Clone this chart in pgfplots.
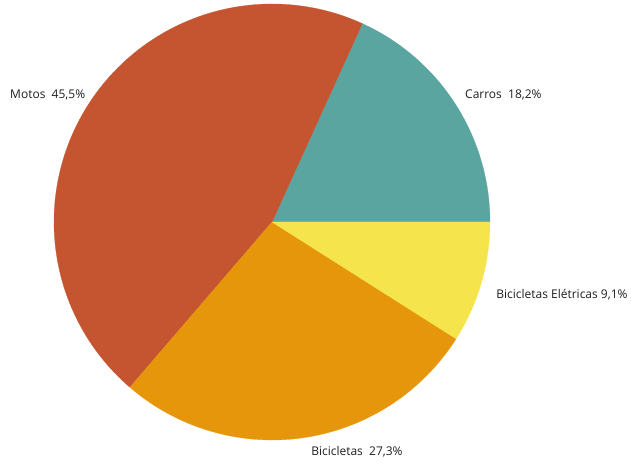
\documentclass[border=0pt]{standalone}
\usepackage{pgfplots}
\pgfplotsset{compat=1.18}
\usepackage{fontspec}
\setmainfont{Open Sans}
\definecolor{carros}{RGB}{91,165,160}
\definecolor{motos}{RGB}{197,85,48}
\definecolor{bic}{RGB}{230,150,10}
\definecolor{ele}{RGB}{245,228,75}
\definecolor{lab}{RGB}{30,30,30}
\begin{document}
\begin{tikzpicture}
\begin{axis}[
  scale only axis, width=473.25pt, height=349.5pt,
  xmin=-1.2477, xmax=1.6468, ymin=-1.1193, ymax=1.0183,
  hide axis, clip=false, trig format plots=deg,
]
% percentages: Carros 18.2, Motos 45.5, Bicicletas 27.3, Bicicletas Eletricas 9.1
\addplot[fill=carros, draw=carros, line width=0.2pt, domain={0}:{18.2*3.6}, samples=60] ({cos(x)},{sin(x)}) -- (axis cs:0,0) -- cycle;
\addplot[fill=motos, draw=motos, line width=0.2pt, domain={18.2*3.6}:{(18.2+45.5)*3.6}, samples=120] ({cos(x)},{sin(x)}) -- (axis cs:0,0) -- cycle;
\addplot[fill=bic, draw=bic, line width=0.2pt, domain={(18.2+45.5)*3.6}:{(18.2+45.5+27.3)*3.6}, samples=80] ({cos(x)},{sin(x)}) -- (axis cs:0,0) -- cycle;
\addplot[fill=ele, draw=ele, line width=0.2pt, domain={(18.2+45.5+27.3)*3.6}:{360}, samples=40] ({cos(x)},{sin(x)}) -- (axis cs:0,0) -- cycle;
\node[anchor=west, inner sep=0pt, font=\fontsize{9pt}{10pt}\selectfont, text=lab] at (axis cs:-1.202,0.583) {Motos\ \ 45,5\%};
\node[anchor=west, inner sep=0pt, font=\fontsize{9pt}{10pt}\selectfont, text=lab] at (axis cs:0.885,0.583) {Carros\ \ 18,2\%};
\node[anchor=west, inner sep=0pt, font=\fontsize{9pt}{10pt}\selectfont, text=lab] at (axis cs:1.028,-0.335) {Bicicletas Elétricas\ 9,1\%};
\node[anchor=west, inner sep=0pt, font=\fontsize{9pt}{10pt}\selectfont, text=lab] at (axis cs:0.179,-1.055) {Bicicletas\ \ 27,3\%};
\end{axis}
\path (current axis.south west) rectangle (current axis.north east);
\end{tikzpicture}
\end{document}
